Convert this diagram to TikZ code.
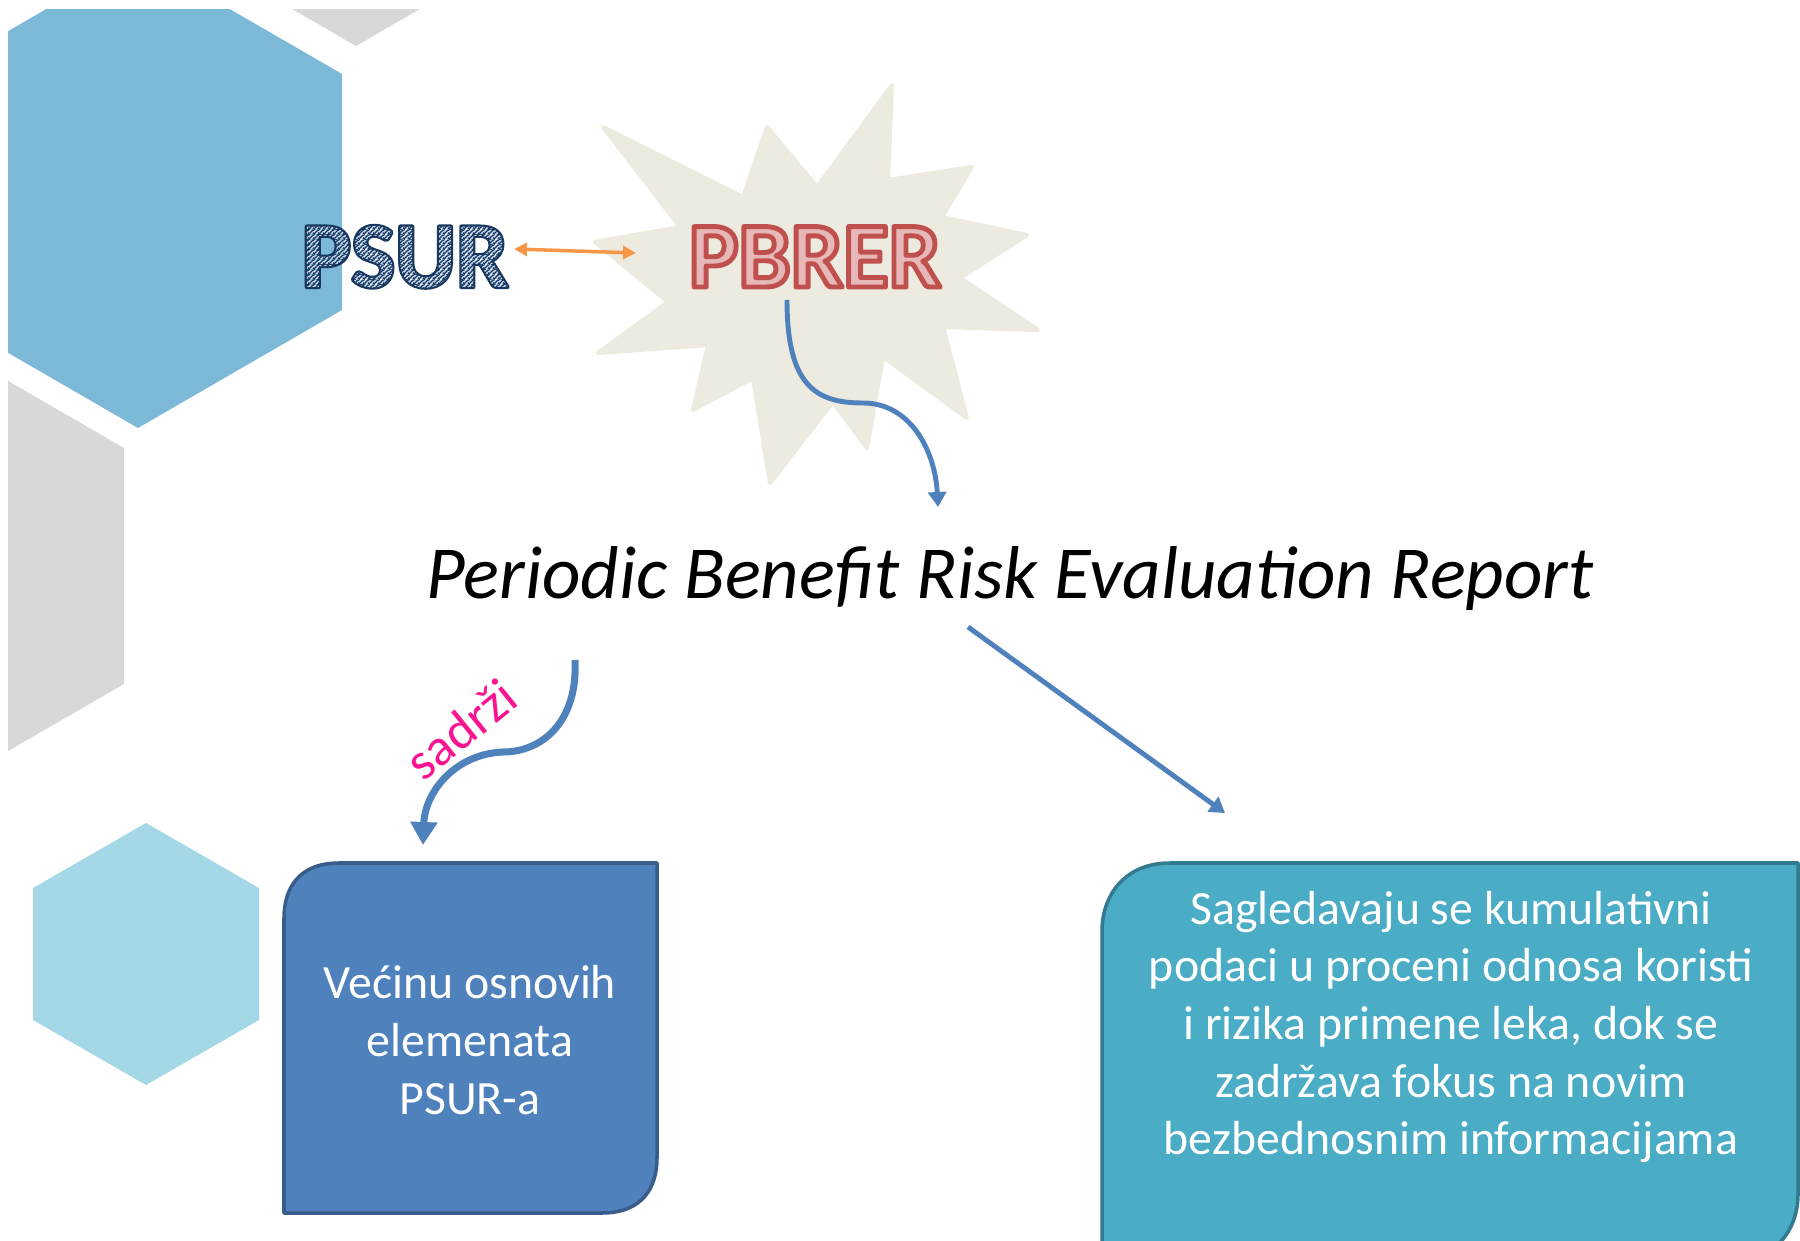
\documentclass[tikz,border=0pt]{standalone}
\usepackage{fontspec}
\setmainfont{Carlito}
\usetikzlibrary{arrows.meta,patterns}

\definecolor{hexblue}{RGB}{123,185,214}
\definecolor{hexgray}{RGB}{216,216,216}
\definecolor{hexlight}{RGB}{165,216,230}
\definecolor{burst}{RGB}{237,235,224}
\definecolor{psurline}{RGB}{23,55,94}
\definecolor{psurpale}{RGB}{198,217,241}
\definecolor{pbrerline}{RGB}{192,80,77}
\definecolor{pbrerfill}{RGB}{230,185,184}
\definecolor{flowblue}{RGB}{79,129,189}
\definecolor{linkorange}{RGB}{247,150,70}
\definecolor{boxblue}{RGB}{79,129,189}
\definecolor{boxblueline}{RGB}{56,93,138}
\definecolor{boxteal}{RGB}{75,172,198}
\definecolor{boxtealline}{RGB}{49,122,143}
\definecolor{labelpink}{RGB}{250,20,145}

% pale tile crossed by navy north-east stripes
\pgfdeclarepatterninherentlycolored{psurhatch}
  {\pgfpointorigin}{\pgfpoint{1.3pt}{1.3pt}}{\pgfpoint{1.3pt}{1.3pt}}
  {%
    \pgfsetfillcolor{psurpale}%
    \pgfpathrectangle{\pgfpointorigin}{\pgfpoint{1.3pt}{1.3pt}}%
    \pgfusepath{fill}%
    \pgfsetstrokecolor{psurline}%
    \pgfsetlinewidth{0.4pt}%
    \pgfpathmoveto{\pgfpoint{-0.2pt}{-0.2pt}}\pgfpathlineto{\pgfpoint{1.5pt}{1.5pt}}%
    \pgfpathmoveto{\pgfpoint{-1.5pt}{-0.2pt}}\pgfpathlineto{\pgfpoint{0.2pt}{1.5pt}}%
    \pgfpathmoveto{\pgfpoint{1.1pt}{-0.2pt}}\pgfpathlineto{\pgfpoint{2.8pt}{1.5pt}}%
    \pgfusepath{stroke}%
  }

% outlined lettering: glyphs are filled, then stroked along their outline
\newcommand{\psurword}{%
  \begin{pgfscope}\pgfsetfillpattern{psurhatch}{black}\pgfsetstrokecolor{psurline}%
  \special{pdf:code 2 Tr 1.2 w 1 j}PSUR\special{pdf:code 0 Tr}\end{pgfscope}}
\newcommand{\pbrerword}{%
  \begin{pgfscope}\pgfsetfillcolor{pbrerfill}\pgfsetstrokecolor{pbrerline}%
  \special{pdf:code 2 Tr 1.4 w 1 j}PBRER\special{pdf:code 0 Tr}\end{pgfscope}}

\tikzset{
  bigword/.style={inner sep=0pt, anchor=base, font=\fontsize{26.5pt}{30pt}\selectfont\bfseries},
  boxtext/.style={align=center, text=white, inner sep=0pt,
    font=\fontsize{13.6pt}{16.4pt}\selectfont},
  flow/.style={draw=flowblue, line width=1.4pt,
    -{Triangle[width=1.8mm,length=1.5mm]}},
  flowthick/.style={draw=flowblue, line width=2pt,
    -{Triangle[width=2.6mm,length=2.3mm]}},
  link/.style={draw=linkorange, line width=1pt,
    {Triangle[width=1.3mm,length=1.3mm]}-{Triangle[width=1.3mm,length=1.3mm]}},
}

\begin{document}
\begin{tikzpicture}[x=0.1mm,y=-0.1mm]
\useasboundingbox (0,0) rectangle (1800,1241);

% background hexagon tiles
\begin{scope}
  \clip (8,10) rectangle (1800,1241);
  \fill[hexblue] (342,74) -- (342,310) -- (138,428) -- (-66,310) -- (-66,74) -- (138,-44) -- cycle;
  \fill[hexgray] (356,46) -- (560,-72) -- (560,-308) -- (152,-308) -- (152,-72) -- cycle;
  \fill[hexgray] (124,448) -- (124,684) -- (-80,802) -- (-284,684) -- (-284,448) -- (-80,330) -- cycle;
  \fill[hexlight] (146,823) -- (259,888) -- (259,1020) -- (146,1085) -- (33,1020) -- (33,888) -- cycle;
\end{scope}

% starburst behind PBRER
\filldraw[fill=burst, draw=burst, line width=1.2pt, line join=round]
  (603,127) -- (743,197) -- (767,127) -- (817,187) -- (892,85) -- (888,180)
  -- (972,167) -- (942,217) -- (1027,235) -- (960,278) -- (1038,330) -- (943,327)
  -- (967,418) -- (883,357) -- (867,448) -- (833,402) -- (770,483) -- (753,378)
  -- (693,410) -- (708,345) -- (598,353) -- (668,302) -- (595,242) -- (680,227) -- cycle;

% left box: rounded top-left and bottom-right corners
\filldraw[fill=boxblue, draw=boxblueline, line width=1pt, line join=round]
  (284,1213) -- (284,918) .. controls (284,888) and (299,863) .. (339,863)
  -- (657,863) -- (657,1158) .. controls (657,1188) and (642,1213) .. (602,1213) -- cycle;

% right box, running past the lower right edge
\begin{scope}
  \clip (0,0) rectangle (1800,1241);
  \filldraw[fill=boxteal, draw=boxtealline, line width=1pt, line join=round]
    (1102,1300) -- (1102,931) .. controls (1102,895) and (1125,863) .. (1170,863)
    -- (1798,863) -- (1798,1194) .. controls (1798,1230) and (1775,1262) .. (1730,1262)
    -- (1102,1262) -- cycle;
\end{scope}

% words and texts
\node[bigword] (psur) at (405,287) {\psurword};
\node[bigword] (pbrer) at (815,287) {\pbrerword};
\node[anchor=base, inner sep=0pt, font=\fontsize{21.3pt}{25pt}\selectfont\itshape] (title)
  at (1010,599) {Periodic Benefit Risk Evaluation Report};
\node[boxtext] (lefttext) at (470,1040) {Većinu osnovih\\elemenata\\PSUR-a};
\node[boxtext] (righttext) at (1451,1027) {Sagledavaju se kumulativni\\podaci u proceni odnosa koristi\\i rizika primene leka, dok se\\zadržava fokus na novim\\bezbednosnim informacijama};
\node[rotate=39, text=labelpink, inner sep=0pt, font=\fontsize{15pt}{17pt}\selectfont] (label) at (461,729) {sadrži};

% connector end points
\coordinate (linkA) at (514,249);
\coordinate (linkB) at (636,253);
\coordinate (curveA) at (787,300);
\coordinate (curveB) at (938,507);
\coordinate (waveA) at (575,660);
\coordinate (waveB) at (423,845);
\coordinate (lineA) at (968,627);
\coordinate (lineB) at (1225,813);

% connectors
\draw[link] (linkA) -- (linkB);
\draw[flow] (curveA) .. controls (787,385) and (815,403) .. (863,403)
  .. controls (910,403) and (935,450) .. (curveB);
\draw[flowthick] (waveA) .. controls (578,722) and (542,752) .. (503,752)
  .. controls (455,754) and (425,792) .. (waveB);
\draw[flow] (lineA) -- (lineB);
\end{tikzpicture}
\end{document}
